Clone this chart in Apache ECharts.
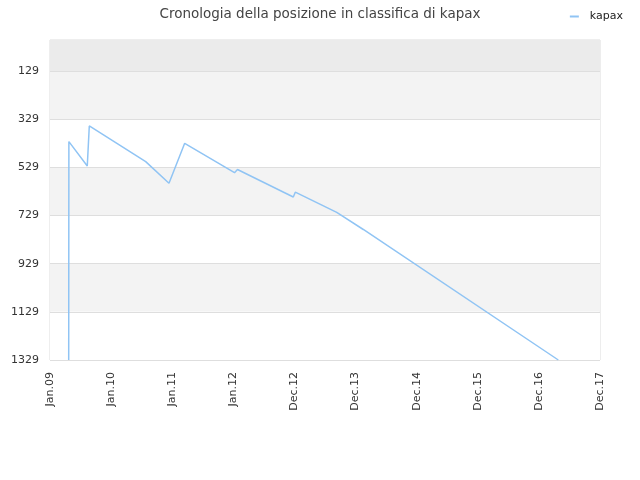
<!DOCTYPE html>
<html>
<head>
<meta charset="utf-8">
<script src="https://cdn.jsdelivr.net/npm/echarts@6/dist/echarts.min.js"></script>
<style>html,body{margin:0;padding:0;background:#fff}#c{width:640px;height:480px}</style>
</head>
<body>
<div id="c"></div>
<script>
var xTickLabels = ['Jan.09','Jan.10','Jan.11','Jan.12','Dec.12','Dec.13','Dec.14','Dec.15','Dec.16','Dec.17'];
var yTickValues = [129, 329, 529, 729, 929, 1129, 1329];
var seriesName = 'kapax';
// x: position along the time axis (in label-interval units), y: rank
var pointX = [0.306, 0.309, 0.610, 0.643, 1.566, 1.947, 2.204, 3.019, 3.068, 3.981, 4.014, 4.692, 5.127, 8.318];
var pointY = [1329, 422, 523, 357, 505, 595, 429, 551, 538, 652, 632, 716, 787, 1329];

var data = pointX.map(function (x, i) { return [x, pointY[i]]; });

var chart = echarts.init(document.getElementById('c'));
chart.setOption({
  animation: false,
  title: {
    text: 'Cronologia della posizione in classifica di kapax',
    left: 'center', top: 2,
    textStyle: { fontFamily: 'DejaVu Sans', fontSize: 13.5, fontWeight: 'normal', color: '#444' }
  },
  legend: {
    right: 12, top: 6,
    itemWidth: 9, itemHeight: 2, itemGap: 10,
    icon: 'rect',
    textStyle: { fontFamily: 'DejaVu Sans', fontSize: 11, color: '#222', padding: [0, 0, 0, 6] },
    data: [seriesName]
  },
  grid: { left: 50, right: 40, top: 40, bottom: 120, show: true, borderColor: '#dcdcdc', borderWidth: 1, backgroundColor: 'transparent' },
  xAxis: {
    type: 'value', min: 0, max: xTickLabels.length - 1, interval: 1,
    axisLine: { show: false },
    axisTick: { show: false },
    splitLine: { show: false },
    axisLabel: {
      rotate: 90, margin: 12,
      fontFamily: 'DejaVu Sans', fontSize: 11, color: '#333',
      formatter: function (v) { return xTickLabels[Math.round(v)] || ''; }
    }
  },
  yAxis: {
    type: 'value', inverse: true, min: 0, max: 1329,
    axisLine: { show: false },
    axisTick: { show: false, customValues: yTickValues },
    axisLabel: {
      customValues: yTickValues, fontFamily: 'DejaVu Sans', fontSize: 11, color: '#333', margin: 11,
      formatter: function (v) { return String(v); }
    },
    splitLine: { show: true, lineStyle: { color: '#dedede', width: 1 } },
    splitArea: { show: true, areaStyle: { color: ['#f3f3f3', '#ffffff'] } }
  },
  series: [{
    name: seriesName,
    type: 'line',
    data: data,
    showSymbol: false,
    lineStyle: { color: '#90c4f4', width: 1.5 },
    itemStyle: { color: '#90c4f4' },
    markArea: {
      silent: true,
      itemStyle: { color: '#ebebeb' },
      data: [[{ yAxis: 0 }, { yAxis: yTickValues[0] }]]
    }
  }]
});
</script>
</body>
</html>
